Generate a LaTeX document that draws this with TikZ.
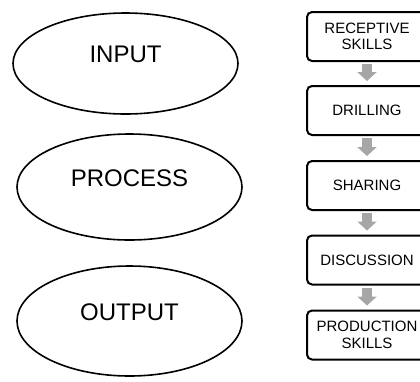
\documentclass[tikz,border=0pt]{standalone}
\usepackage{fontspec}
\setmainfont{Liberation Sans}
\usetikzlibrary{shapes.geometric,arrows.meta}

\tikzset{
  stage/.style={ellipse, draw, line width=1.6pt, inner sep=0pt,
    font=\fontsize{24}{28}\selectfont, text height=18pt, text depth=20pt},
  stepbox/.style={draw, line width=2pt, rounded corners=5pt,
    minimum width=120pt, minimum height=49pt, inner sep=2pt,
    align=center, font=\fontsize{15}{16.5}\selectfont},
  flowarrow/.style={draw=black!35, line width=10pt,
    -{Triangle[width=19pt,length=9pt]},
    shorten <=2pt, shorten >=4pt}
}

\begin{document}
\begin{tikzpicture}[x=1pt,y=-1pt]
  \useasboundingbox (0,0) rectangle (420,381);

  % three stages on the left
  \node[stage, minimum width=225pt, minimum height=101pt] (input)   at (125.5,63.5) {INPUT};
  \node[stage, minimum width=225pt, minimum height=106pt] (process) at (129.5,187)  {PROCESS};
  \node[stage, minimum width=225pt, minimum height=110pt] (output)  at (129.5,321)  {OUTPUT};

  % activity sequence on the right
  \node[stepbox] (rec)  at (367,36.5)  {RECEPTIVE\\SKILLS};
  \node[stepbox] (dri)  at (367,110.5) {DRILLING};
  \node[stepbox] (sha)  at (367,185.5) {SHARING};
  \node[stepbox] (dis)  at (367,260)   {DISCUSSION};
  \node[stepbox] (pro)  at (367,335)   {PRODUCTION\\SKILLS};

  \draw[flowarrow] (rec.south) -- (dri.north);
  \draw[flowarrow] (dri.south) -- (sha.north);
  \draw[flowarrow] (sha.south) -- (dis.north);
  \draw[flowarrow] (dis.south) -- (pro.north);
\end{tikzpicture}
\end{document}
